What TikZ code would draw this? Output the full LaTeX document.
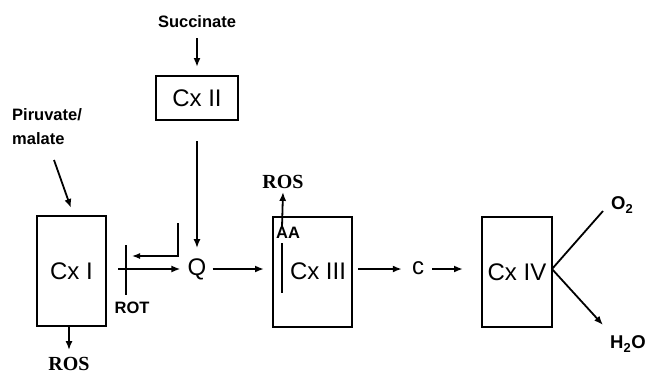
\documentclass[tikz,border=0pt]{standalone}
\usepackage{fontspec}
\setmainfont{Liberation Sans}
\newfontfamily\rosfont{Liberation Serif}
\usetikzlibrary{arrows.meta}
\begin{document}
\begin{tikzpicture}[x=1pt,y=-1pt,
  cxbox/.style={draw,line width=2pt,inner sep=0pt},
  big/.style={font=\fontsize{24}{26}\selectfont,inner sep=0pt},
  small/.style={font=\fontsize{16.5}{24}\selectfont\bfseries,inner sep=0pt},
  chem/.style={font=\fontsize{18.5}{24}\selectfont\bfseries,inner sep=0pt},
  ros/.style={font=\fontsize{20}{22}\selectfont\rosfont\bfseries,inner sep=0pt},
  arr/.style={line width=1.8pt,-{Latex[length=9pt,width=7pt]}},
  thinarr/.style={line width=1.3pt,-{Latex[length=8pt,width=6pt]}},
  bar/.style={line width=2.8pt}]
\useasboundingbox (0,0) rectangle (647,376);
% boxes
\node[cxbox,minimum width=69pt,minimum height=110pt,big] (cx1) at (71.5,271) {Cx I};
\node[cxbox,minimum width=82pt,minimum height=44pt,big] (cx2) at (197,98) {Cx II};
\node[cxbox,minimum width=79pt,minimum height=110pt] (cx3) at (312.5,272) {};
\node[big] (cx3t) at (318,271) {Cx III};
\node[cxbox,minimum width=70pt,minimum height=110pt,big] (cx4) at (517,272) {Cx IV};
% labels
\node[small] (succ) at (197,22) {Succinate};
\node[small,align=left,anchor=north west] (pir) at (12,108) {Piruvate/\\malate};
\node[big] (q) at (197,269) {Q};
\node[big] (c) at (418,268) {c};
\node[small] (rot) at (132,308) {ROT};
\node[small] (aa) at (288,233) {AA};
\node[ros] (ros1) at (69,364) {ROS};
\node[ros] (ros3) at (283,182) {ROS};
\node[chem,anchor=west] (o2) at (611,205) {O\textsubscript{2}};
\node[chem,anchor=west] (h2o) at (610,344) {H\textsubscript{2}O};
\coordinate (pirs) at (54,160);
\coordinate (pire) at (71,208);
\coordinate (rott) at (126,245);
\coordinate (rotb) at (126,295);
\coordinate (bk1) at (178,223);
\coordinate (bk2) at (178,256);
\coordinate (bk3) at (132,256);
\coordinate (aat) at (282,243);
\coordinate (aab) at (282,293);
\coordinate (cx4r) at (552,269);
\coordinate (o2e) at (603,211);
\coordinate (h2oe) at (603,325);
% connectors
\draw[arr] (succ.south) ++(0,10) -- ([yshift=8pt]cx2.north);
\draw[arr] (cx2.south) ++(0,20) -- ([yshift=10pt]q.north);
\draw[arr] (pirs) -- (pire);
\draw[arr] ([xshift=11pt]cx1.east |- q) -- ([xshift=-7pt]q.west);
\draw[bar] (rott) -- (rotb);
\draw[thinarr] (bk1) -- (bk2) -- (bk3);
\draw[arr] ([xshift=6pt]q.east) -- ([xshift=-8pt]cx3.west |- q);
\draw[arr] (aat |- cx3.north) ++(0,11) -- ([yshift=-3pt]ros3.south);
\draw[bar] (aat) -- (aab);
\draw[arr] ([xshift=5pt]cx3.east |- q) -- ([xshift=-10pt]c.west |- q);
\draw[arr] ([xshift=8pt]c.east |- q) -- ([xshift=-18pt]cx4.west |- q);
\draw[line width=1.8pt] (cx4r) -- (o2e);
\draw[arr] (cx4r) -- (h2oe);
\draw[arr] ([yshift=2pt]cx1.south -| ros1) -- ([yshift=7pt]ros1.north);
\end{tikzpicture}
\end{document}
